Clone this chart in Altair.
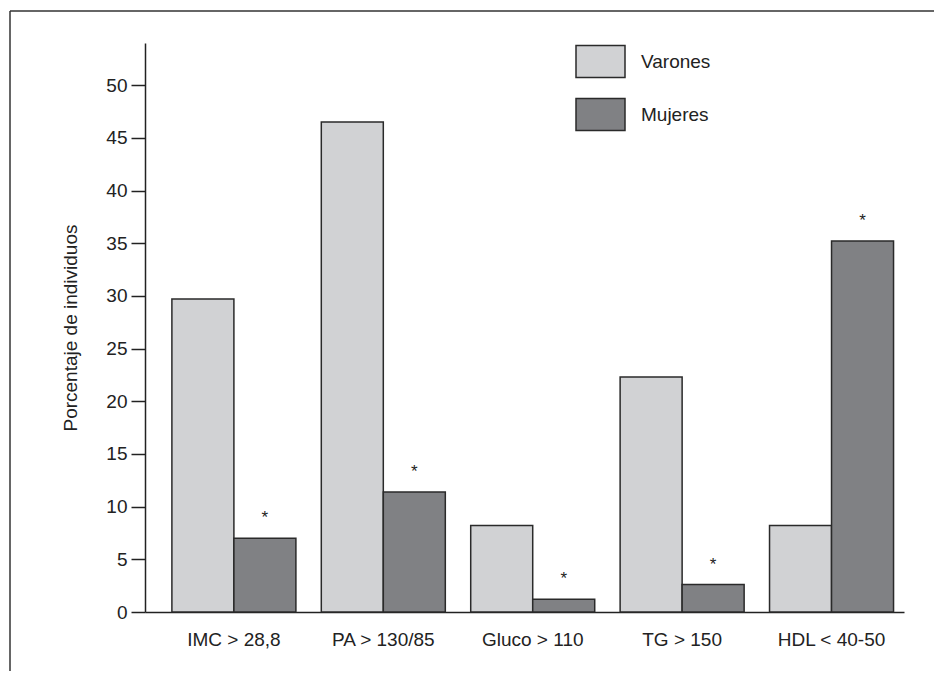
import altair as alt
import pandas as pd

categorias = ["IMC > 28,8", "PA > 130/85", "Gluco > 110", "TG > 150", "HDL < 40-50"]
varones = [29.7, 46.5, 8.2, 22.3, 8.2]
mujeres = [7.0, 11.4, 1.2, 2.6, 35.2]
significativo = ["*", "*", "*", "*", "*"]
grupos = ["Varones", "Mujeres"]

rows = []
for c, v, m, s in zip(categorias, varones, mujeres, significativo):
    rows.append({"cat": c, "grupo": "Varones", "valor": v, "sig": ""})
    rows.append({"cat": c, "grupo": "Mujeres", "valor": m, "sig": s})
df = pd.DataFrame(rows)

FONT = "Liberation Sans, Arial, sans-serif"
FS = 19
W, H = 759, 569
PL, PT, PR, PB = 137, 35, 30, 59

x_enc = alt.X("cat:N", sort=categorias,
              scale=alt.Scale(paddingInner=0.17, paddingOuter=0.125, align=0.72),
              axis=alt.Axis(title=None, ticks=False, labelAngle=0, labelFontSize=FS,
                            labelPadding=18, labelColor="#222", domainColor="#222",
                            domainWidth=1.5, labelFont=FONT))
xo_enc = alt.XOffset("grupo:N", sort=grupos, scale=alt.Scale(paddingInner=0, paddingOuter=0))
y_enc = alt.Y("valor:Q",
              scale=alt.Scale(domain=[0, 54], nice=False),
              axis=alt.Axis(title="Porcentaje de individuos", values=list(range(0, 55, 5)),
                            grid=False, tickSize=14, tickColor="#222", tickWidth=1.5,
                            domainColor="#222", domainWidth=1.5, labelFontSize=FS,
                            labelColor="#222", labelPadding=4, labelFont=FONT,
                            titleFont=FONT, titleFontSize=FS, titleFontWeight="normal",
                            titleColor="#222", titlePadding=25))

bars = alt.Chart(df).mark_bar(stroke="#2a2a2a", strokeWidth=1.5, opacity=1).encode(
    x=x_enc, xOffset=xo_enc, y=y_enc,
    fill=alt.Fill("grupo:N", sort=grupos,
                  scale=alt.Scale(domain=grupos, range=["#d1d2d4", "#808184"]),
                  legend=alt.Legend(title=None, orient="none", legendX=430, legendY=-7,
                                    symbolType="M-1,-0.653L1,-0.653L1,0.653L-1,0.653Z",
                                    symbolSize=2401, symbolStrokeColor="#2a2a2a",
                                    symbolStrokeWidth=1.5, symbolOpacity=1,
                                    labelFontSize=FS, labelFont=FONT, labelColor="#222",
                                    labelOffset=15, rowPadding=8, padding=0)),
)

stars = alt.Chart(df).mark_text(fontSize=17, font=FONT, color="#222", dy=-20,
                                baseline="middle").encode(
    x=alt.X("cat:N", sort=categorias), xOffset=alt.XOffset("grupo:N", sort=grupos),
    y="valor:Q", text="sig:N",
)

frame_left = alt.Chart(pd.DataFrame({"k": [0]})).mark_rule(color="#333", strokeWidth=1.5).encode(
    x=alt.value(-135), y=alt.value(-32), y2=alt.value(H + PB + 5))
frame_top = alt.Chart(pd.DataFrame({"k": [0]})).mark_rule(color="#333", strokeWidth=1.5).encode(
    x=alt.value(-135), x2=alt.value(W + PR + 5), y=alt.value(-32))

chart = alt.layer(bars, stars, frame_left, frame_top).properties(
    width=W, height=H,
    autosize=alt.AutoSizeParams(type="none"),
    padding={"left": PL, "top": PT, "right": PR, "bottom": PB},
).configure(background="white").configure_view(stroke="transparent", strokeWidth=0)

chart.save("out.html", embed_options={"renderer": "svg", "actions": False})
